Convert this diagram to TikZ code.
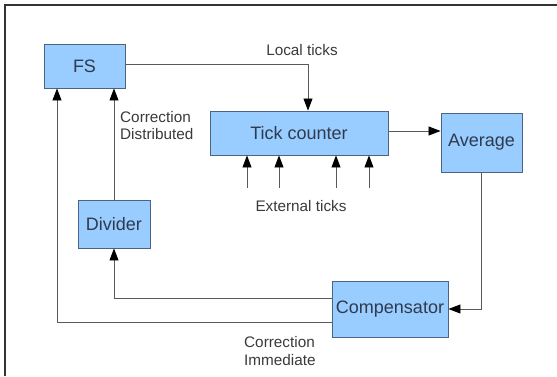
\documentclass[tikz,border=0pt]{standalone}
\usepackage{fontspec}
\setmainfont{Liberation Sans}
\usetikzlibrary{arrows.meta}
\definecolor{boxfill}{HTML}{99CCFF}
\definecolor{boxline}{HTML}{4A6482}
\definecolor{boxtext}{HTML}{2E3B4E}
\definecolor{wire}{HTML}{595959}
\definecolor{labeltext}{HTML}{3A3A3A}
\tikzset{
  block/.style={draw=boxline, line width=0.9pt, fill=boxfill, text=boxtext,
    font=\fontsize{18}{20}\selectfont, inner sep=0pt, anchor=center},
  wirearrow/.style={draw=wire, line width=0.8pt,
    -{Triangle[length=12pt,width=9pt,color=black]}},
  note/.style={text=labeltext, font=\fontsize{15.3}{17.5}\selectfont,
    inner sep=0pt, align=left},
}
\begin{document}
\begin{tikzpicture}[x=1pt,y=-1pt]
  \useasboundingbox (0,0) rectangle (557,376);
  % page frame: top and left edges only
  \draw[line width=1.6pt, draw=black!80] (5,376) -- (5,5) -- (557,5);

  % blocks
  \node[block, minimum width=81pt, minimum height=44pt] (fs) at (84.5,66) {FS};
  \node[block, minimum width=178pt, minimum height=44pt] (tick) at (299,133) {Tick counter};
  \node[block, minimum width=81pt, minimum height=59pt] (avg) at (481.5,142.5) {Average};
  \node[block, minimum width=72pt, minimum height=48pt] (div) at (114,224) {Divider};
  \node[block, minimum width=116pt, minimum height=56pt] (comp) at (390,309) {Compensator};

  % local ticks from FS into the counter
  \draw[wirearrow] ([yshift=2pt]fs.east) -| ([xshift=9pt]tick.north);
  % counter to average
  \draw[wirearrow] ([yshift=2pt]tick.east) -- ([yshift=2pt]tick.east -| avg.west);
  % average to compensator
  \draw[wirearrow] (avg.south) |- (comp.east);
  % compensator to divider
  \draw[wirearrow] ([yshift=10.5pt]comp.west) -| (div.south);
  % compensator straight back to FS (immediate correction)
  \draw[wirearrow] ([yshift=-13pt]comp.west) -| ([xshift=-27.5pt]fs.south);
  % divider to FS (distributed correction)
  \draw[wirearrow] (div.north) -- (div.north |- fs.south);

  % external tick inputs
  \coordinate (e1) at (247,188);
  \coordinate (e2) at (279,188);
  \coordinate (e3) at (336,188);
  \coordinate (e4) at (369,188);
  \foreach \e in {e1,e2,e3,e4}
    \draw[wirearrow] (\e) -- (\e |- tick.south);

  % labels
  \node[note] (lloc) at (302,50) {Local ticks};
  \node[note, anchor=west] (ldist) at (120,125.5) {Correction\\Distributed};
  \node[note] (lext) at (301,206) {External ticks};
  \node[note, anchor=west] (limm) at (244,351) {Correction\\Immediate};
\end{tikzpicture}
\end{document}
